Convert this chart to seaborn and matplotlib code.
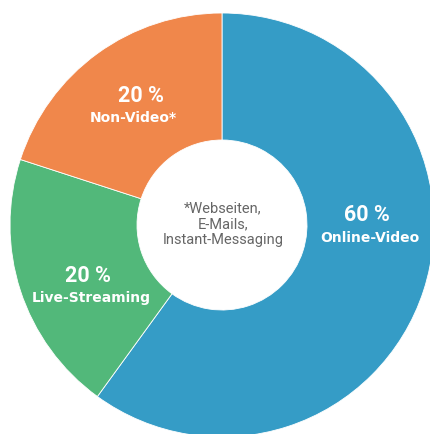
import matplotlib
matplotlib.use("Agg")
import matplotlib.pyplot as plt
import seaborn as sns

# Data
categories = ["Online-Video", "Live-Streaming", "Non-Video*"]
shares = [60, 20, 20]
pct_labels = ["60 %", "20 %", "20 %"]
colors = ["#359CC6", "#52B87A", "#F0874B"]
center_note = "*Webseiten,\nE-Mails,\nInstant-Messaging"

sns.set_theme(style="white")
plt.rcParams["font.family"] = ["Roboto", "DejaVu Sans"]

W, H = 430, 434
fig = plt.figure(figsize=(W / 100, H / 100), dpi=100)
ax = fig.add_axes([0, 0, 1, 1])

cx, cy = 222, H - 225
R, r_in = 212, 85

ax.pie(shares, colors=colors, startangle=90, counterclock=False,
       radius=R, center=(cx, cy),
       wedgeprops=dict(width=R - r_in, edgecolor="white", linewidth=0.6))

ax.set_xlim(0, W)
ax.set_ylim(0, H)
ax.set_aspect("auto")
ax.axis("off")

# label positions (pixel coords from top)
pos = {
    "Online-Video": ((367, 215), (370, 238)),
    "Live-Streaming": ((88, 276), (91, 298)),
    "Non-Video*": ((141, 96), (133, 118)),
}
for cat, pl in zip(categories, pct_labels):
    (px, py), (lx, ly) = pos[cat]
    ax.text(px, H - py, pl, color="white", fontsize=15.5, fontweight="bold",
            ha="center", va="center")
    ax.text(lx, H - ly, cat, color="white", fontsize=10, fontweight="bold",
            family=["DejaVu Sans"], ha="center", va="center")

ax.text(223, H - 224, center_note, color="#666666", fontsize=10.5,
        ha="center", va="center", linespacing=1.2)

fig.savefig("out.png", dpi=100)
